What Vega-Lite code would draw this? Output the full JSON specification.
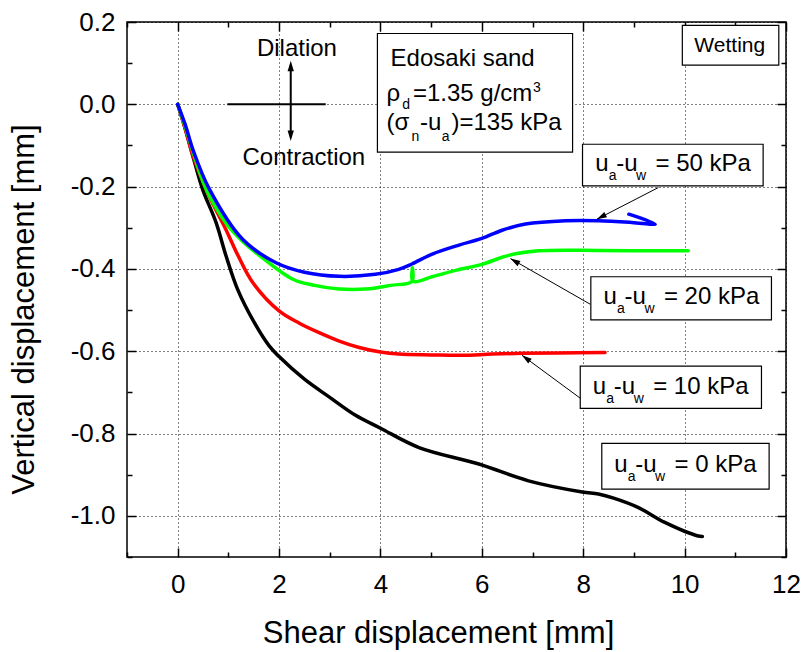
{
  "$schema": "https://vega.github.io/schema/vega-lite/v6.json",
  "width": 659,
  "height": 535,
  "autosize": {"type": "none"},
  "padding": {"left": 127, "top": 22, "right": 21, "bottom": 95},
  "background": "white",
  "config": {
    "view": {"stroke": "black", "strokeWidth": 1.5},
    "font": "Liberation Sans"
  },
  "resolve": {"axis": {"x": "independent", "y": "independent"}},
  "datasets": {
    "curves": [
      {"s": "0 kPa", "i": 0, "x": 0, "y": 0},
      {"s": "0 kPa", "i": 1, "x": 0.15, "y": -0.06},
      {"s": "0 kPa", "i": 2, "x": 0.3, "y": -0.126},
      {"s": "0 kPa", "i": 3, "x": 0.49, "y": -0.206},
      {"s": "0 kPa", "i": 4, "x": 0.756, "y": -0.287},
      {"s": "0 kPa", "i": 5, "x": 0.953, "y": -0.368},
      {"s": "0 kPa", "i": 6, "x": 1.18, "y": -0.449},
      {"s": "0 kPa", "i": 7, "x": 1.51, "y": -0.53},
      {"s": "0 kPa", "i": 8, "x": 1.805, "y": -0.587},
      {"s": "0 kPa", "i": 9, "x": 2.0, "y": -0.613},
      {"s": "0 kPa", "i": 10, "x": 2.5, "y": -0.668},
      {"s": "0 kPa", "i": 11, "x": 3.0, "y": -0.712},
      {"s": "0 kPa", "i": 12, "x": 3.5, "y": -0.755},
      {"s": "0 kPa", "i": 13, "x": 4.0, "y": -0.787},
      {"s": "0 kPa", "i": 14, "x": 4.76, "y": -0.834},
      {"s": "0 kPa", "i": 15, "x": 5.94, "y": -0.874},
      {"s": "0 kPa", "i": 16, "x": 6.92, "y": -0.915},
      {"s": "0 kPa", "i": 17, "x": 7.98, "y": -0.942},
      {"s": "0 kPa", "i": 18, "x": 8.3, "y": -0.947},
      {"s": "0 kPa", "i": 19, "x": 8.6, "y": -0.957},
      {"s": "0 kPa", "i": 20, "x": 9.09, "y": -0.98},
      {"s": "0 kPa", "i": 21, "x": 9.61, "y": -1.016},
      {"s": "0 kPa", "i": 22, "x": 10.27, "y": -1.049},
      {"s": "0 kPa", "i": 23, "x": 10.35, "y": -1.05},
      {"s": "10 kPa", "i": 0, "x": 0, "y": 0},
      {"s": "10 kPa", "i": 1, "x": 0.15, "y": -0.06},
      {"s": "10 kPa", "i": 2, "x": 0.3, "y": -0.125},
      {"s": "10 kPa", "i": 3, "x": 0.62, "y": -0.223},
      {"s": "10 kPa", "i": 4, "x": 0.95, "y": -0.304},
      {"s": "10 kPa", "i": 5, "x": 1.2, "y": -0.37},
      {"s": "10 kPa", "i": 6, "x": 1.48, "y": -0.433},
      {"s": "10 kPa", "i": 7, "x": 2.0, "y": -0.502},
      {"s": "10 kPa", "i": 8, "x": 2.4, "y": -0.532},
      {"s": "10 kPa", "i": 9, "x": 2.79, "y": -0.555},
      {"s": "10 kPa", "i": 10, "x": 3.2, "y": -0.576},
      {"s": "10 kPa", "i": 11, "x": 3.58, "y": -0.591},
      {"s": "10 kPa", "i": 12, "x": 4.0, "y": -0.602},
      {"s": "10 kPa", "i": 13, "x": 4.36, "y": -0.607},
      {"s": "10 kPa", "i": 14, "x": 5.0, "y": -0.609},
      {"s": "10 kPa", "i": 15, "x": 5.61, "y": -0.61},
      {"s": "10 kPa", "i": 16, "x": 6.2, "y": -0.607},
      {"s": "10 kPa", "i": 17, "x": 6.79, "y": -0.605},
      {"s": "10 kPa", "i": 18, "x": 7.5, "y": -0.604},
      {"s": "10 kPa", "i": 19, "x": 8.43, "y": -0.603},
      {"s": "20 kPa", "i": 0, "x": 0, "y": 0},
      {"s": "20 kPa", "i": 1, "x": 0.15, "y": -0.055},
      {"s": "20 kPa", "i": 2, "x": 0.3, "y": -0.115},
      {"s": "20 kPa", "i": 3, "x": 0.56, "y": -0.206},
      {"s": "20 kPa", "i": 4, "x": 0.96, "y": -0.29},
      {"s": "20 kPa", "i": 5, "x": 1.3, "y": -0.335},
      {"s": "20 kPa", "i": 6, "x": 1.61, "y": -0.367},
      {"s": "20 kPa", "i": 7, "x": 2.27, "y": -0.425},
      {"s": "20 kPa", "i": 8, "x": 2.7, "y": -0.44},
      {"s": "20 kPa", "i": 9, "x": 3.19, "y": -0.449},
      {"s": "20 kPa", "i": 10, "x": 3.71, "y": -0.449},
      {"s": "20 kPa", "i": 11, "x": 4.2, "y": -0.44},
      {"s": "20 kPa", "i": 12, "x": 4.62, "y": -0.43},
      {"s": "20 kPa", "i": 13, "x": 4.63, "y": -0.397},
      {"s": "20 kPa", "i": 14, "x": 4.64, "y": -0.43},
      {"s": "20 kPa", "i": 15, "x": 5.02, "y": -0.419},
      {"s": "20 kPa", "i": 16, "x": 5.5, "y": -0.403},
      {"s": "20 kPa", "i": 17, "x": 6.0, "y": -0.389},
      {"s": "20 kPa", "i": 18, "x": 6.53, "y": -0.367},
      {"s": "20 kPa", "i": 19, "x": 7.12, "y": -0.356},
      {"s": "20 kPa", "i": 20, "x": 8.3, "y": -0.355},
      {"s": "20 kPa", "i": 21, "x": 9.2, "y": -0.356},
      {"s": "20 kPa", "i": 22, "x": 10.07, "y": -0.356},
      {"s": "50 kPa", "i": 0, "x": 0, "y": 0},
      {"s": "50 kPa", "i": 1, "x": 0.15, "y": -0.05},
      {"s": "50 kPa", "i": 2, "x": 0.3, "y": -0.11},
      {"s": "50 kPa", "i": 3, "x": 0.62, "y": -0.205},
      {"s": "50 kPa", "i": 4, "x": 1.28, "y": -0.328},
      {"s": "50 kPa", "i": 5, "x": 1.94, "y": -0.385},
      {"s": "50 kPa", "i": 6, "x": 2.5, "y": -0.408},
      {"s": "50 kPa", "i": 7, "x": 3.19, "y": -0.418},
      {"s": "50 kPa", "i": 8, "x": 3.9, "y": -0.413},
      {"s": "50 kPa", "i": 9, "x": 4.36, "y": -0.401},
      {"s": "50 kPa", "i": 10, "x": 4.62, "y": -0.388},
      {"s": "50 kPa", "i": 11, "x": 5.02, "y": -0.364},
      {"s": "50 kPa", "i": 12, "x": 5.55, "y": -0.342},
      {"s": "50 kPa", "i": 13, "x": 6.0, "y": -0.326},
      {"s": "50 kPa", "i": 14, "x": 6.4, "y": -0.306},
      {"s": "50 kPa", "i": 15, "x": 6.86, "y": -0.291},
      {"s": "50 kPa", "i": 16, "x": 7.65, "y": -0.283},
      {"s": "50 kPa", "i": 17, "x": 8.3, "y": -0.283},
      {"s": "50 kPa", "i": 18, "x": 8.96, "y": -0.287},
      {"s": "50 kPa", "i": 19, "x": 9.42, "y": -0.291},
      {"s": "50 kPa", "i": 20, "x": 8.9, "y": -0.267}
    ],
    "boxes": [
      {"x": 3.94, "x2": 7.79, "y": 0.172, "y2": -0.116},
      {"x": 9.955, "x2": 11.858, "y": 0.192, "y2": 0.095},
      {"x": 7.986, "x2": 11.549, "y": -0.097, "y2": -0.198},
      {"x": 8.15, "x2": 11.713, "y": -0.419, "y2": -0.524},
      {"x": 7.941, "x2": 11.516, "y": -0.636, "y2": -0.739},
      {"x": 8.366, "x2": 11.667, "y": -0.824, "y2": -0.935}
    ],
    "cross": [
      {"x": 0.98, "x2": 2.92, "y": 0, "y2": 0},
      {"x": 2.23, "x2": 2.23, "y": 0.095, "y2": -0.08}
    ],
    "arrows": [
      {"x": 9.482, "x2": 8.267, "y": -0.2023, "y2": -0.2794},
      {"x": 8.138, "x2": 6.565, "y": -0.4858, "y2": -0.3749},
      {"x": 7.941, "x2": 6.791, "y": -0.7141, "y2": -0.6097}
    ],
    "txt24": [
      {"x": 4.2, "y": 0.093, "t": "Edosaki sand"},
      {"x": 4.12, "y": 0.008, "t": "ρ"},
      {"x": 4.64, "y": 0.008, "t": "=1.35 g/cm"},
      {"x": 4.12, "y": -0.063, "t": "(σ"},
      {"x": 4.78, "y": -0.063, "t": "-u"},
      {"x": 5.4, "y": -0.063, "t": ")=135 kPa"},
      {"x": 8.236, "y": -0.162, "t": "u"},
      {"x": 8.65, "y": -0.162, "t": "-u"},
      {"x": 9.427, "y": -0.162, "t": "= 50 kPa"},
      {"x": 8.4, "y": -0.486, "t": "u"},
      {"x": 8.813, "y": -0.486, "t": "-u"},
      {"x": 9.591, "y": -0.486, "t": "= 20 kPa"},
      {"x": 8.189, "y": -0.703, "t": "u"},
      {"x": 8.602, "y": -0.703, "t": "-u"},
      {"x": 9.38, "y": -0.703, "t": "= 10 kPa"},
      {"x": 8.61, "y": -0.893, "t": "u"},
      {"x": 9.024, "y": -0.893, "t": "-u"},
      {"x": 9.801, "y": -0.893, "t": "= 0 kPa"}
    ],
    "sub": [
      {"x": 4.43, "y": -0.012, "t": "d"},
      {"x": 7.01, "y": 0.031, "t": "3"},
      {"x": 4.61, "y": -0.09, "t": "n"},
      {"x": 5.21, "y": -0.09, "t": "a"},
      {"x": 8.502, "y": -0.184, "t": "a"},
      {"x": 9.043, "y": -0.184, "t": "w"},
      {"x": 8.665, "y": -0.508, "t": "a"},
      {"x": 9.207, "y": -0.508, "t": "w"},
      {"x": 8.455, "y": -0.725, "t": "a"},
      {"x": 8.996, "y": -0.725, "t": "w"},
      {"x": 8.876, "y": -0.915, "t": "a"},
      {"x": 9.417, "y": -0.915, "t": "w"}
    ],
    "ctr": [
      {"x": 2.352, "y": 0.117, "t": "Dilation"},
      {"x": 2.488, "y": -0.147, "t": "Contraction"}
    ],
    "wet": [
      {"x": 10.192, "y": 0.126, "t": "Wetting"}
    ]
  },
  "layer": [
    {
      "data": {"name": "curves"},
      "mark": {"type": "line", "strokeWidth": 3.5, "strokeCap": "round", "strokeJoin": "round", "interpolate": "catmull-rom"},
      "encoding": {
        "x": {"field": "x", "type": "quantitative", "scale": {"domain": [-1, 12], "nice": false, "zero": false},
          "axis": {
            "orient": "bottom",
            "values": [-1, 0, 1, 2, 3, 4, 5, 6, 7, 8, 9, 10, 11, 12],
            "labelExpr": "datum.value % 2 === 0 ? datum.label : ''",
            "tickSize": {"condition": {"test": "datum.value % 2 === 0", "value": -9}, "value": -5},
            "tickColor": "black", "tickWidth": 1.5,
            "domain": false,
            "grid": true,
            "gridOpacity": {"condition": {"test": "datum.value % 2 === 0", "value": 1}, "value": 0},
            "gridColor": "black", "gridDash": [1, 3], "gridWidth": 1,
            "labelFont": "Liberation Sans", "labelFontSize": 26, "labelColor": "black", "labelPadding": 23,
            "labelFlush": false, "labelOverlap": false,
            "title": "Shear displacement [mm]", "titleFont": "Liberation Sans", "titleFontSize": 31,
            "titleFontWeight": "normal", "titleColor": "black",
            "titleX": 311, "titleY": 85, "titleBaseline": "alphabetic", "titleAlign": "center"
          }
        },
        "y": {"field": "y", "type": "quantitative", "scale": {"domain": [-1.1, 0.2], "nice": false, "zero": false},
          "axis": {
            "orient": "left",
            "values": [-1.1, -1.0, -0.9, -0.8, -0.7, -0.6, -0.5, -0.4, -0.3, -0.2, -0.1, 0.0, 0.1, 0.2],
            "labelExpr": "abs(round(datum.value*10)) % 2 === 0 ? replace(format(datum.value, '.1f'), '−', '-') : ''",
            "tickSize": {"condition": {"test": "abs(round(datum.value*10)) % 2 === 0", "value": -9}, "value": -5},
            "tickColor": "black", "tickWidth": 1.5,
            "domain": false,
            "grid": true,
            "gridOpacity": {"condition": {"test": "abs(round(datum.value*10)) % 2 === 0", "value": 1}, "value": 0},
            "gridColor": "black", "gridDash": [1, 3], "gridWidth": 1,
            "labelFont": "Liberation Sans", "labelFontSize": 26, "labelColor": "black", "labelPadding": 21,
            "labelFlush": false, "labelOverlap": false,
            "title": "Vertical displacement [mm]", "titleFont": "Liberation Sans", "titleFontSize": 31,
            "titleFontWeight": "normal", "titleColor": "black",
            "titleX": -103, "titleY": 287, "titleBaseline": "middle", "titleAlign": "center", "titleAngle": -90
          }
        },
        "color": {"field": "s", "type": "nominal",
          "scale": {"domain": ["0 kPa", "10 kPa", "20 kPa", "50 kPa"], "range": ["#000000", "#ff0000", "#00ff00", "#0000ff"]},
          "legend": null},
        "order": {"field": "i", "type": "quantitative"}
      }
    },
    {
      "data": {"name": "boxes"},
      "mark": {"type": "rect", "fill": "white", "stroke": "black", "strokeWidth": 1.2},
      "encoding": {
        "x": {"field": "x", "type": "quantitative", "scale": {"domain": [-1, 12], "nice": false, "zero": false},
          "axis": {
            "orient": "top",
            "values": [-1, 0, 1, 2, 3, 4, 5, 6, 7, 8, 9, 10, 11, 12],
            "labels": false, "grid": false, "domain": false, "title": null,
            "tickSize": {"condition": {"test": "datum.value % 2 === 0", "value": -9}, "value": -5},
            "tickColor": "black", "tickWidth": 1.5
          }
        },
        "x2": {"field": "x2"},
        "y": {"field": "y", "type": "quantitative", "scale": {"domain": [-1.1, 0.2], "nice": false, "zero": false},
          "axis": {
            "orient": "right",
            "values": [-1.1, -1.0, -0.9, -0.8, -0.7, -0.6, -0.5, -0.4, -0.3, -0.2, -0.1, 0.0, 0.1, 0.2],
            "labels": false, "grid": false, "domain": false, "title": null,
            "tickSize": {"condition": {"test": "abs(round(datum.value*10)) % 2 === 0", "value": -9}, "value": -5},
            "tickColor": "black", "tickWidth": 1.5
          }
        },
        "y2": {"field": "y2"}
      }
    },
    {
      "data": {"name": "cross"},
      "mark": {"type": "rule", "stroke": "black", "strokeWidth": 2},
      "encoding": {
        "x": {"field": "x", "type": "quantitative", "scale": {"domain": [-1, 12], "nice": false, "zero": false}, "axis": null},
        "x2": {"field": "x2"},
        "y": {"field": "y", "type": "quantitative", "scale": {"domain": [-1.1, 0.2], "nice": false, "zero": false}, "axis": null},
        "y2": {"field": "y2"}
      }
    },
    {
      "data": {"name": "arrows"},
      "mark": {"type": "rule", "stroke": "black", "strokeWidth": 1},
      "encoding": {
        "x": {"field": "x", "type": "quantitative", "scale": {"domain": [-1, 12], "nice": false, "zero": false}, "axis": null},
        "x2": {"field": "x2"},
        "y": {"field": "y", "type": "quantitative", "scale": {"domain": [-1.1, 0.2], "nice": false, "zero": false}, "axis": null},
        "y2": {"field": "y2"}
      }
    },
    {
      "data": {"values": [{"x": 2.23, "y": 0.093}]},
      "mark": {"type": "point", "shape": "M0,-1L0.6,1L-0.6,1Z", "filled": true, "color": "black", "opacity": 1, "size": 110, "angle": 0, "strokeWidth": 0},
      "encoding": {
        "x": {"field": "x", "type": "quantitative", "scale": {"domain": [-1, 12], "nice": false, "zero": false}, "axis": null},
        "y": {"field": "y", "type": "quantitative", "scale": {"domain": [-1.1, 0.2], "nice": false, "zero": false}, "axis": null}
      }
    },
    {
      "data": {"values": [{"x": 2.23, "y": -0.0765}]},
      "mark": {"type": "point", "shape": "M0,-1L0.6,1L-0.6,1Z", "filled": true, "color": "black", "opacity": 1, "size": 110, "angle": 180, "strokeWidth": 0},
      "encoding": {
        "x": {"field": "x", "type": "quantitative", "scale": {"domain": [-1, 12], "nice": false, "zero": false}, "axis": null},
        "y": {"field": "y", "type": "quantitative", "scale": {"domain": [-1.1, 0.2], "nice": false, "zero": false}, "axis": null}
      }
    },
    {
      "data": {"values": [{"x": 8.355, "y": -0.2737}]},
      "mark": {"type": "point", "shape": "M0,-1L0.6,1L-0.6,1Z", "filled": true, "color": "black", "opacity": 1, "size": 100, "angle": 242.8, "strokeWidth": 0},
      "encoding": {
        "x": {"field": "x", "type": "quantitative", "scale": {"domain": [-1, 12], "nice": false, "zero": false}, "axis": null},
        "y": {"field": "y", "type": "quantitative", "scale": {"domain": [-1.1, 0.2], "nice": false, "zero": false}, "axis": null}
      }
    },
    {
      "data": {"values": [{"x": 6.648, "y": -0.3809}]},
      "mark": {"type": "point", "shape": "M0,-1L0.6,1L-0.6,1Z", "filled": true, "color": "black", "opacity": 1, "size": 100, "angle": 299.7, "strokeWidth": 0},
      "encoding": {
        "x": {"field": "x", "type": "quantitative", "scale": {"domain": [-1, 12], "nice": false, "zero": false}, "axis": null},
        "y": {"field": "y", "type": "quantitative", "scale": {"domain": [-1.1, 0.2], "nice": false, "zero": false}, "axis": null}
      }
    },
    {
      "data": {"values": [{"x": 6.87, "y": -0.617}]},
      "mark": {"type": "point", "shape": "M0,-1L0.6,1L-0.6,1Z", "filled": true, "color": "black", "opacity": 1, "size": 100, "angle": 306.4, "strokeWidth": 0},
      "encoding": {
        "x": {"field": "x", "type": "quantitative", "scale": {"domain": [-1, 12], "nice": false, "zero": false}, "axis": null},
        "y": {"field": "y", "type": "quantitative", "scale": {"domain": [-1.1, 0.2], "nice": false, "zero": false}, "axis": null}
      }
    },
    {
      "data": {"name": "txt24"},
      "mark": {"type": "text", "font": "Liberation Sans", "fontSize": 24, "align": "left", "baseline": "alphabetic", "color": "black"},
      "encoding": {
        "x": {"field": "x", "type": "quantitative", "scale": {"domain": [-1, 12], "nice": false, "zero": false}, "axis": null},
        "y": {"field": "y", "type": "quantitative", "scale": {"domain": [-1.1, 0.2], "nice": false, "zero": false}, "axis": null},
        "text": {"field": "t"}
      }
    },
    {
      "data": {"name": "sub"},
      "mark": {"type": "text", "font": "Liberation Sans", "fontSize": 14, "align": "left", "baseline": "alphabetic", "color": "black"},
      "encoding": {
        "x": {"field": "x", "type": "quantitative", "scale": {"domain": [-1, 12], "nice": false, "zero": false}, "axis": null},
        "y": {"field": "y", "type": "quantitative", "scale": {"domain": [-1.1, 0.2], "nice": false, "zero": false}, "axis": null},
        "text": {"field": "t"}
      }
    },
    {
      "data": {"name": "ctr"},
      "mark": {"type": "text", "font": "Liberation Sans", "fontSize": 24, "align": "center", "baseline": "alphabetic", "color": "black"},
      "encoding": {
        "x": {"field": "x", "type": "quantitative", "scale": {"domain": [-1, 12], "nice": false, "zero": false}, "axis": null},
        "y": {"field": "y", "type": "quantitative", "scale": {"domain": [-1.1, 0.2], "nice": false, "zero": false}, "axis": null},
        "text": {"field": "t"}
      }
    },
    {
      "data": {"name": "wet"},
      "mark": {"type": "text", "font": "Liberation Sans", "fontSize": 21, "align": "left", "baseline": "alphabetic", "color": "black"},
      "encoding": {
        "x": {"field": "x", "type": "quantitative", "scale": {"domain": [-1, 12], "nice": false, "zero": false}, "axis": null},
        "y": {"field": "y", "type": "quantitative", "scale": {"domain": [-1.1, 0.2], "nice": false, "zero": false}, "axis": null},
        "text": {"field": "t"}
      }
    }
  ]
}
